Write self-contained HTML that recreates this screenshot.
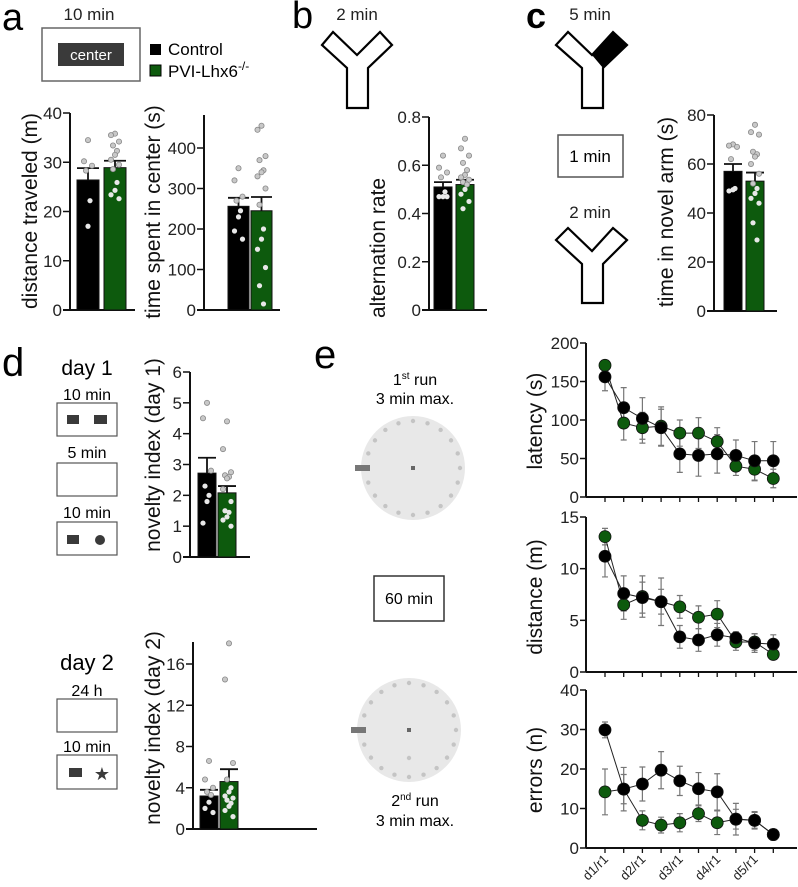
<!DOCTYPE html>
<html><head><meta charset="utf-8"><style>
html,body{margin:0;padding:0;background:#fff;}
svg{display:block;font-family:"Liberation Sans",sans-serif;}
</style></head><body>
<svg id="fig" width="798" height="887" viewBox="0 0 798 887" xmlns="http://www.w3.org/2000/svg">
<!-- Panel a schematic -->
<text x="2" y="30" font-size="38">a</text>
<text x="89" y="20" font-size="17" text-anchor="middle" fill="#222">10 min</text>
<rect x="42" y="28" width="98" height="53" fill="#fff" stroke="#666" stroke-width="1.5"/>
<rect x="58" y="43" width="66" height="23" fill="#3a3a3a"/>
<text x="91" y="60" font-size="15" fill="#fff" text-anchor="middle">center</text>
<rect x="150" y="44" width="11" height="11" fill="#000"/>
<text x="168" y="55" font-size="17">Control</text>
<rect x="150" y="65" width="11" height="11" fill="#0d5a0d" stroke="#000" stroke-width="1"/>
<text x="168" y="77" font-size="17">PVI-Lhx6<tspan font-size="12" dy="-7">-/-</tspan></text>
<!-- Panel b -->
<text x="292" y="28" font-size="38">b</text>
<text x="357" y="20" font-size="17" text-anchor="middle" fill="#222">2 min</text>
<polygon points="322,45 333,32 357,55 380,32 392,45 368,68 368,108 347,108 347,68" fill="#fff" stroke="#000" stroke-width="2.2"/>
<!-- Panel c -->
<text x="526" y="28" font-size="36" font-weight="bold">c</text>
<text x="590" y="20" font-size="17" text-anchor="middle" fill="#222">5 min</text>
<polygon points="556,45 568,32 592,55 613,32 627,45 603,68 603,108 582,108 582,68" fill="#fff" stroke="#000" stroke-width="2.2"/>
<polygon points="592,55 613,32 627,45 603,68" fill="#000"/>
<rect x="558" y="135" width="65" height="42" fill="#fff" stroke="#555" stroke-width="1.5"/>
<text x="590" y="162" font-size="17" text-anchor="middle">1 min</text>
<text x="590" y="218" font-size="17" text-anchor="middle" fill="#222">2 min</text>
<polygon points="556,240 568,228 592,251 613,228 627,240 603,264 603,303 582,303 582,264" fill="#fff" stroke="#000" stroke-width="2.2"/>
<!-- Panel d schematics -->
<text x="2" y="376" font-size="40">d</text>
<text x="87" y="375" font-size="21" text-anchor="middle">day 1</text>
<text x="87" y="400" font-size="16" text-anchor="middle">10 min</text>
<rect x="57" y="403" width="60" height="33" fill="#fff" stroke="#555" stroke-width="1.2"/>
<rect x="67" y="415" width="12" height="9" fill="#3a3a3a"/>
<rect x="94" y="415" width="13" height="9" fill="#3a3a3a"/>
<text x="87" y="458" font-size="16" text-anchor="middle">5 min</text>
<rect x="57" y="463" width="60" height="33" fill="#fff" stroke="#555" stroke-width="1.2"/>
<text x="87" y="518" font-size="16" text-anchor="middle">10 min</text>
<rect x="57" y="522" width="60" height="33" fill="#fff" stroke="#555" stroke-width="1.2"/>
<rect x="67" y="535" width="12" height="9" fill="#3a3a3a"/>
<circle cx="100" cy="540" r="5" fill="#3a3a3a"/>
<text x="87" y="670" font-size="22" text-anchor="middle">day 2</text>
<text x="87" y="696" font-size="16" text-anchor="middle">24 h</text>
<rect x="57" y="699" width="60" height="33" fill="#fff" stroke="#555" stroke-width="1.2"/>
<text x="87" y="752" font-size="16" text-anchor="middle">10 min</text>
<rect x="57" y="755" width="60" height="34" fill="#fff" stroke="#555" stroke-width="1.2"/>
<rect x="69" y="768" width="13" height="9" fill="#3a3a3a"/>
<text x="102" y="780" font-size="18" text-anchor="middle" fill="#3a3a3a">★</text>
<!-- Panel e schematics -->
<text x="314" y="368" font-size="40">e</text>
<text x="415" y="385" font-size="16" text-anchor="middle">1<tspan font-size="10" dy="-6">st</tspan><tspan dy="6"> run</tspan></text>
<text x="415" y="404" font-size="16" text-anchor="middle">3 min max.</text>
<g id="maze1"></g>
<rect x="374" y="576" width="70" height="45" fill="#fff" stroke="#333" stroke-width="1.5"/>
<text x="409" y="604" font-size="16" text-anchor="middle">60 min</text>
<g id="maze2"></g>
<text x="415" y="806" font-size="16" text-anchor="middle">2<tspan font-size="10" dy="-6">nd</tspan><tspan dy="6"> run</tspan></text>
<text x="415" y="826" font-size="16" text-anchor="middle">3 min max.</text>
<g id="charts"></g>
</svg>
<script>
// ---------- Bar chart data ----------
const groups = ["Control", "PVI-Lhx6-/-"];
const distMeans = [26.4, 28.9];
const distSem = [2.4, 1.4];
const distDotsCtrl = [34.5, 30.2, 29.3, 28.3, 22.2, 17.0];
const distDotsKo = [35.8, 35.5, 34.2, 33.4, 32.3, 31.5, 30.5, 29.5, 28.6, 25.9, 24.3, 23.4, 22.6];
const distTicks = [0, 10, 20, 30, 40];

const centerMeans = [256, 245];
const centerSem = [21, 34];
const centerDotsCtrl = [350, 320, 280, 270, 245, 230, 195, 175];
const centerDotsKo = [455, 445, 380, 370, 345, 340, 330, 300, 260, 200, 175, 150, 105, 60, 15];
const centerTicks = [0, 100, 200, 300, 400];

const altMeans = [0.51, 0.52];
const altSem = [0.02, 0.02];
const altDotsCtrl = [0.64, 0.59, 0.57, 0.55, 0.49, 0.47, 0.47, 0.47];
const altDotsKo = [0.71, 0.67, 0.64, 0.61, 0.58, 0.56, 0.55, 0.54, 0.53, 0.52, 0.50, 0.48, 0.45, 0.42];
const altTicks = [0, 0.2, 0.4, 0.6, 0.8];
const altTickLabels = ["0", "0.2", "0.4", "0.6", "0.8"];

const novelArmMeans = [57, 53];
const novelArmSem = [3, 3.5];
const novelArmDotsCtrl = [68, 67.5, 67, 62, 50, 49.5, 49];
const novelArmDotsKo = [76, 73, 72, 65, 64, 63, 60, 56, 52, 50, 48, 46, 44, 36, 29];
const novelArmTicks = [0, 20, 40, 60, 80];

const ni1Means = [2.72, 2.08];
const ni1Sem = [0.5, 0.22];
const ni1DotsCtrl = [5.0, 4.5, 2.8, 2.3, 2.0, 1.8, 1.1];
const ni1DotsKo = [4.4, 3.5, 2.75, 2.65, 2.6, 2.55, 2.2, 1.8, 1.5, 1.45, 1.3, 1.2, 1.0];
const ni1Ticks = [0, 1, 2, 3, 4, 5, 6];

const ni2Means = [3.2, 4.6];
const ni2Sem = [0.6, 1.2];
const ni2DotsCtrl = [6.6, 4.8, 4.0, 3.6, 3.3, 2.6, 2.0, 1.6];
const ni2DotsKo = [18, 14.5, 6.4, 4.8, 4.0, 3.6, 3.2, 3.0, 2.8, 2.5, 2.2, 1.8, 1.2];
const ni2Ticks = [0, 4, 8, 12, 16];

// ---------- Line chart data (Barnes maze) ----------
const sessions = ["d1/r1","d1/r2","d2/r1","d2/r2","d3/r1","d3/r2","d4/r1","d4/r2","d5/r1","d5/r2"];
const sessionLabels = ["d1/r1","","d2/r1","","d3/r1","","d4/r1","","d5/r1",""];
const latCtrl = [156, 116, 102, 90, 56, 54, 56, 54, 47, 47];
const latCtrlSem = [18, 26, 27, 24, 24, 27, 25, 20, 25, 25];
const latKo = [171, 96, 90, 92, 83, 83, 72, 40, 36, 24];
const latKoSem = [6, 22, 20, 25, 17, 20, 18, 12, 15, 12];
const latTicks = [0, 50, 100, 150, 200];

const distRunCtrl = [11.2, 7.6, 7.2, 6.8, 3.4, 3.1, 3.6, 3.3, 2.8, 2.7];
const distRunCtrlSem = [2.0, 1.7, 1.5, 2.3, 1.1, 1.1, 1.1, 0.6, 0.9, 0.9];
const distRunKo = [13.1, 6.5, 7.3, 6.8, 6.3, 5.3, 5.6, 2.9, 2.9, 1.7];
const distRunKoSem = [0.8, 1.4, 2.0, 1.2, 1.1, 1.1, 1.3, 0.8, 0.8, 0.4];
const distRunTicks = [0, 5, 10, 15];

const errCtrl = [29.9, 14.9, 16.2, 19.7, 17.0, 15.0, 14.2, 7.3, 7.0, 3.4];
const errCtrlSem = [2.0, 5.5, 4.3, 4.7, 3.7, 4.1, 4.6, 4.0, 2.2, 1.4];
const errKo = [14.2, 14.9, 7.0, 5.8, 6.4, 8.7, 6.4, 7.3, 7.0, 3.4];
const errKoSem = [5.8, 3.7, 2.4, 2.0, 2.3, 2.0, 3.0, 2.5, 2.0, 1.0];
const errTicks = [0, 10, 20, 30, 40];

const NS = "http://www.w3.org/2000/svg";
const root = document.getElementById("charts");
function mk(tag, attrs, parent) {
  const e = document.createElementNS(NS, tag);
  for (const k in attrs) e.setAttribute(k, attrs[k]);
  (parent || root).appendChild(e);
  return e;
}
const GREEN = "#0d5a0d";

function barChart(id, L, means, sems, dotsC, dotsK, ticks, tickLabels, ylabel) {
  const g = mk("g", {});
  
  
  const y = v => L.y0 - (v - L.vmin) / (L.vmax - L.vmin) * (L.y0 - L.ytop);
  const ax = mk("line", {x1: L.ax, x2: L.ax, y1: L.axTop, y2: L.y0 + 1, stroke: "#111", "stroke-width": 2}, g);
  
  
  const bl = mk("line", {x1: L.ax - 7, x2: L.axEnd, y1: L.y0, y2: L.y0, stroke: "#111", "stroke-width": 2}, g);
  
  
  ticks.forEach((t, i) => {
    const ty = y(t);
    if (t !== ticks[0]) {
      const tl = mk("line", {x1: L.ax - 7, x2: L.ax, y1: ty, y2: ty, stroke: "#111", "stroke-width": 1.5}, g);
      
      
    }
    const tx = mk("text", {x: L.ax - 8, y: ty + 6, "font-size": 17, "text-anchor": "end", fill: "#222"}, g);
    tx.textContent = tickLabels ? tickLabels[i] : String(t);
    
    
  });
  const allDots = [dotsC, dotsK];
  means.forEach((m, i) => {
    const bx = L.bx[i];
    const top = y(m);
    const r = mk("rect", {x: bx, y: top, width: L.bw, height: L.y0 - top, fill: i === 0 ? "#000" : GREEN, stroke: "#111", "stroke-width": 1}, g);
    
    
    const cx = bx + L.bw / 2;
    const et = y(m + sems[i]);
    const ev = mk("path", {d: `M${cx},${top}V${et}M${cx - L.bw / 2},${et}H${cx + L.bw / 2}`, stroke: "#111", "stroke-width": 1.8, fill: "none"}, g);
    
    
    allDots[i].forEach((d, k) => {
      const off = [0, -4, 4, -2, 2][k % 5];
      const dy = y(d);
      const inside = dy > top + 3;
      const c = mk("circle", {cx: cx + off, cy: dy, r: 2.6, fill: inside ? "#e8e8e8" : "#c8c8c8", stroke: inside ? "none" : "#888", "stroke-width": 0.8}, g);
      
      
    });
  });
  const yl = mk("text", {x: L.lx, y: L.ly, "font-size": 21, "text-anchor": "middle", transform: `rotate(-90 ${L.lx} ${L.ly})`, fill: "#111"}, g);
  yl.textContent = ylabel;
  
  
}

barChart("distance", {ax: 70, axTop: 113, axEnd: 135, y0: 310, ytop: 113, vmin: 0, vmax: 40, bx: [77, 104], bw: 22, lx: 37, ly: 211}, distMeans, distSem, distDotsCtrl, distDotsKo, distTicks, null, "distance traveled (m)");
barChart("center-time", {ax: 204, axTop: 115, axEnd: 280, y0: 310, ytop: 148, vmin: 0, vmax: 400, bx: [228, 251], bw: 21, lx: 160, ly: 212}, centerMeans, centerSem, centerDotsCtrl, centerDotsKo, centerTicks, null, "time spent in center (s)");
barChart("alternation", {ax: 429, axTop: 117, axEnd: 487, y0: 310, ytop: 117, vmin: 0, vmax: 0.8, bx: [434, 456], bw: 18, lx: 385, ly: 248}, altMeans, altSem, altDotsCtrl, altDotsKo, altTicks, altTickLabels, "alternation rate");
barChart("novel-arm", {ax: 714, axTop: 115, axEnd: 777, y0: 311, ytop: 115, vmin: 0, vmax: 80, bx: [724, 746], bw: 18, lx: 673, ly: 212}, novelArmMeans, novelArmSem, novelArmDotsCtrl, novelArmDotsKo, novelArmTicks, null, "time in novel arm (s)");
barChart("novelty-day1", {ax: 190, axTop: 372, axEnd: 250, y0: 557, ytop: 372, vmin: 0, vmax: 6, bx: [198, 218], bw: 18, lx: 160, ly: 455}, ni1Means, ni1Sem, ni1DotsCtrl, ni1DotsKo, ni1Ticks, null, "novelty index (day 1)");
barChart("novelty-day2", {ax: 193, axTop: 642, axEnd: 317, y0: 829, ytop: 664, vmin: 0, vmax: 16, bx: [200, 220], bw: 18, lx: 160, ly: 728}, ni2Means, ni2Sem, ni2DotsCtrl, ni2DotsKo, ni2Ticks, null, "novelty index (day 2)");

// ---------- Barnes maze drawings ----------
function maze(gid, cx, cy, hx, extra) {
  const g = document.getElementById(gid);
  const c = mk("circle", {cx, cy, r: 52, fill: "#e8e8e8"}, g);
  
  
  for (let k = 0; k < 20; k++) {
    const a = k * Math.PI * 2 / 20;
    if (k === 10) continue;
    const h = mk("circle", {cx: cx + 47 * Math.cos(a), cy: cy + 47 * Math.sin(a), r: 2.2, fill: "#c4c4c4"}, g);
    
    
  }
  const b = mk("rect", {x: hx, y: cy - 3, width: 15, height: 6, fill: "#777"}, g);
  
  
  const s = mk("rect", {x: cx - 2, y: cy - 2, width: 4, height: 4, fill: "#666"}, g);
  
  
  if (extra) {
    const e = mk("circle", {cx, cy: cy + 28, r: 2.2, fill: "#c4c4c4"}, g);
    
    
  }
}
maze("maze1", 413, 468, 355, false);
maze("maze2", 409, 730, 351, true);

// ---------- Line charts ----------
const LX0 = 605, LDX = 18.7, LAX = 586, LEND = 797;
const xs = i => LX0 + i * LDX;
function lineChart(id, top, bottom, vmax, ticks, ctrl, ctrlSem, ko, koSem, ylabel, ly, showLabels) {
  const g = mk("g", {});
  
  
  const y = v => bottom - v / vmax * (bottom - top);
  const a1 = mk("line", {x1: LAX, x2: LAX, y1: top, y2: bottom, stroke: "#111", "stroke-width": 2}, g);
  
  
  const a2 = mk("line", {x1: LAX, x2: LEND, y1: bottom, y2: bottom, stroke: "#111", "stroke-width": 2}, g);
  
  
  ticks.forEach(t => {
    const ty = y(t);
    const tl = mk("line", {x1: LAX - 6, x2: LAX, y1: ty, y2: ty, stroke: "#111", "stroke-width": 1.5}, g);
    
    
    const tx = mk("text", {x: LAX - 7, y: ty + 6, "font-size": 17, "text-anchor": "end", fill: "#222"}, g);
    tx.textContent = String(t);
    
    
  });
  sessions.forEach((s, i) => {
    const tk = mk("line", {x1: xs(i), x2: xs(i), y1: bottom, y2: bottom + 5, stroke: "#111", "stroke-width": 1.3}, g);
    
    
    if (showLabels && sessionLabels[i]) {
      const lx = xs(i) + 4, lyy = bottom + 12;
      const t = mk("text", {x: lx, y: lyy, "font-size": 13, "text-anchor": "end", transform: `rotate(-45 ${lx} ${lyy})`, fill: "#222"}, g);
      t.textContent = sessionLabels[i];
      
      
    }
  });
  [[ko, koSem, GREEN, 'ko'], [ctrl, ctrlSem, "#000", 'control']].forEach(([vals, sems, col, nm]) => {
    vals.forEach((v, i) => {
      const cx = xs(i);
      const e = mk("path", {d: `M${cx},${y(v - sems[i])}V${y(v + sems[i])}M${cx - 3},${y(v - sems[i])}h6M${cx - 3},${y(v + sems[i])}h6`, stroke: "#777", "stroke-width": 1.2, fill: "none"}, g);
      
      
    });
  });
  [[ko, GREEN, 'ko'], [ctrl, "#000", 'control']].forEach(([vals, col, nm]) => {
    const d = vals.map((v, i) => (i ? "L" : "M") + xs(i) + "," + y(v)).join("");
    const p = mk("path", {d, stroke: "#222", "stroke-width": 1, fill: "none"}, g);
    
    
  });
  [[ko, GREEN, 'ko'], [ctrl, "#000", 'control']].forEach(([vals, col, nm]) => {
    vals.forEach((v, i) => {
      const c = mk("circle", {cx: xs(i), cy: y(v), r: 6, fill: col, stroke: "#111", "stroke-width": 0.8}, g);
      
      
    });
  });
  const lx = 542;
  const yl = mk("text", {x: lx, y: ly, "font-size": 21, "text-anchor": "middle", transform: `rotate(-90 ${lx} ${ly})`, fill: "#111"}, g);
  yl.textContent = ylabel;
  
  
}
lineChart("latency", 343, 497, 200, latTicks, latCtrl, latCtrlSem, latKo, latKoSem, "latency  (s)", 421, false);
lineChart("run-distance", 517, 672, 15, distRunTicks, distRunCtrl, distRunCtrlSem, distRunKo, distRunKoSem, "distance  (m)", 597, false);
lineChart("errors", 690, 848, 40, errTicks, errCtrl, errCtrlSem, errKo, errKoSem, "errors (n)", 770, true);
</script>
</body></html>
